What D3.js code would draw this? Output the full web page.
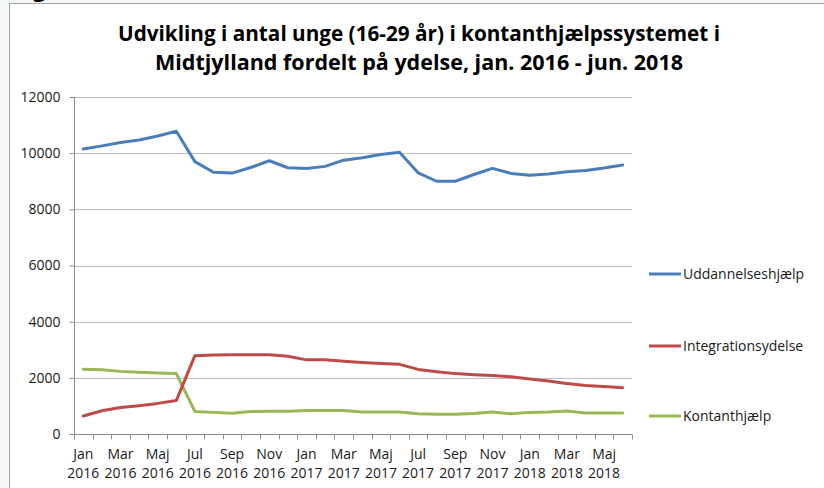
<!DOCTYPE html>
<html>
<head>
<meta charset="utf-8">
<script src="https://cdn.jsdelivr.net/npm/d3@7"></script>
<style>
  html, body { margin: 0; padding: 0; background: #f3f7f8; }
  svg { display: block; }
</style>
</head>
<body>
<div id="chart"></div>
<script>
// Months Jan 2016 - Jun 2018
const months = ["Jan", "Feb", "Mar", "Apr", "Maj", "Jun", "Jul", "Aug", "Sep", "Okt", "Nov", "Dec"]
const categories = []
for (let y = 2016; y <= 2018; y++) {
  months.forEach(m => { if (categories.length < 30) categories.push(m + " " + y) })
}

const uddannelseshjaelp = [10150, 10260, 10380, 10470, 10610, 10780, 9700, 9320, 9290, 9490,
  9730, 9480, 9450, 9530, 9750, 9840, 9950, 10030, 9300, 9000,
  9000, 9240, 9460, 9280, 9210, 9260, 9340, 9380, 9470, 9580]
const integrationsydelse = [640, 830, 940, 1010, 1090, 1190, 2790, 2810, 2820, 2820,
  2820, 2770, 2640, 2640, 2590, 2550, 2510, 2480, 2300, 2220,
  2150, 2110, 2080, 2040, 1960, 1890, 1800, 1730, 1690, 1650]
const kontanthjaelp = [2310, 2290, 2230, 2200, 2170, 2150, 800, 770, 740, 800,
  810, 810, 840, 840, 840, 780, 780, 780, 720, 700,
  700, 730, 780, 720, 770, 780, 820, 750, 750, 750]

const series = [
  { name: "Uddannelseshjælp", values: uddannelseshjaelp, color: "#4a7ebb", legendY: 274 },
  { name: "Integrationsydelse", values: integrationsydelse, color: "#be4b48", legendY: 346 },
  { name: "Kontanthjælp", values: kontanthjaelp, color: "#98b954", legendY: 416 }
]
const yTicks = [0, 2000, 4000, 6000, 8000, 10000, 12000]
const titleLines = [
  "Udvikling i antal unge (16-29 år) i kontanthjælpssystemet i",
  "Midtjylland fordelt på ydelse, jan. 2016 - jun. 2018"
]

const width = 824, height = 488
const plot = { left: 74, right: 632, top: 97, bottom: 434 }
const font = "'Open Sans', sans-serif"

const svg = d3.select("#chart").append("svg")
  .attr("width", width)
  .attr("height", height)

// Frame
svg.append("rect")
  .attr("x", 10).attr("y", 3)
  .attr("width", width - 10).attr("height", height - 3)
  .attr("fill", "#ffffff")
svg.append("line")
  .attr("x1", 9.5).attr("x2", 9.5).attr("y1", 3).attr("y2", height)
  .attr("stroke", "#a6a6a6")
svg.append("line")
  .attr("x1", 9.5).attr("x2", width).attr("y1", 3.5).attr("y2", 3.5)
  .attr("stroke", "#a6a6a6")
svg.append("text")
  .attr("x", 33).attr("y", -3)
  .attr("font-family", font).attr("font-size", 22).attr("font-weight", 700)
  .text("g")

// Title
svg.append("g").selectAll("text")
  .data(titleLines)
  .join("text")
  .attr("x", 419)
  .attr("y", (d, i) => 41 + i * 29)
  .attr("text-anchor", "middle")
  .attr("font-family", font)
  .attr("font-size", 21)
  .attr("font-weight", 700)
  .attr("fill", "#000")
  .attr("textLength", (d, i) => i === 0 ? 602 : 528)
  .attr("lengthAdjust", "spacingAndGlyphs")
  .text(d => d)

const x = d3.scaleBand().domain(categories).range([plot.left, plot.right])
const y = d3.scaleLinear().domain([0, 12000]).range([plot.bottom, plot.top])

// Gridlines
svg.append("g").selectAll("line")
  .data(yTicks.filter(d => d > 0))
  .join("line")
  .attr("x1", plot.left).attr("x2", plot.right)
  .attr("y1", d => Math.round(y(d)) + 0.5).attr("y2", d => Math.round(y(d)) + 0.5)
  .attr("stroke", "#c0c0c0")
  .attr("stroke-width", 1.2)

// Y axis
const yAxis = svg.append("g")
  .attr("transform", `translate(${plot.left + 0.5},0)`)
  .call(d3.axisLeft(y).tickValues(yTicks).tickSize(5).tickPadding(9).tickFormat(d3.format("d")))
yAxis.select(".domain").attr("stroke", "#8c8c8c").attr("d", `M0,${plot.bottom}V${plot.top}`)
yAxis.selectAll(".tick line").attr("stroke", "#8c8c8c")
yAxis.selectAll(".tick text")
  .attr("font-family", font).attr("font-size", 14).attr("fill", "#1a1a1a")

// X axis: ticks at category boundaries, labels every other month
const xAxisG = svg.append("g")
  .attr("transform", `translate(0,${plot.bottom + 0.5})`)
xAxisG.append("line")
  .attr("x1", plot.left).attr("x2", plot.right)
  .attr("stroke", "#8c8c8c")
xAxisG.selectAll("line.tk")
  .data(d3.range(categories.length + 1))
  .join("line")
  .attr("class", "tk")
  .attr("x1", i => Math.round(plot.left + i * x.step()) + 0.5)
  .attr("x2", i => Math.round(plot.left + i * x.step()) + 0.5)
  .attr("y1", 0).attr("y2", 5)
  .attr("stroke", "#8c8c8c")
const labels = xAxisG.selectAll("text")
  .data(categories.filter((d, i) => i % 2 === 0))
  .join("text")
  .attr("x", d => x(d) + x.bandwidth() / 2)
  .attr("text-anchor", "middle")
  .attr("font-family", font)
  .attr("font-size", 14)
  .attr("fill", "#1a1a1a")
labels.append("tspan")
  .attr("x", d => x(d) + x.bandwidth() / 2)
  .attr("y", 24)
  .text(d => d.split(" ")[0])
labels.append("tspan")
  .attr("x", d => x(d) + x.bandwidth() / 2)
  .attr("y", 43)
  .text(d => d.split(" ")[1])

// Lines
const line = d3.line()
  .x((d, i) => x(categories[i]) + x.bandwidth() / 2)
  .y(d => y(d))

svg.append("g").selectAll("path")
  .data(series.slice().reverse())
  .join("path")
  .attr("d", d => line(d.values))
  .attr("fill", "none")
  .attr("stroke", d => d.color)
  .attr("stroke-width", 3)
  .attr("stroke-linejoin", "round")
  .attr("stroke-linecap", "round")

// Legend
const legend = svg.append("g").selectAll("g")
  .data(series)
  .join("g")
  .attr("transform", d => `translate(649,${d.legendY})`)
legend.append("line")
  .attr("x1", 0).attr("x2", 32)
  .attr("stroke", d => d.color)
  .attr("stroke-width", 3)
legend.append("text")
  .attr("x", 34)
  .attr("dy", "0.35em")
  .attr("font-family", font)
  .attr("font-size", 14)
  .attr("fill", "#1a1a1a")
  .text(d => d.name)
</script>
</body>
</html>
